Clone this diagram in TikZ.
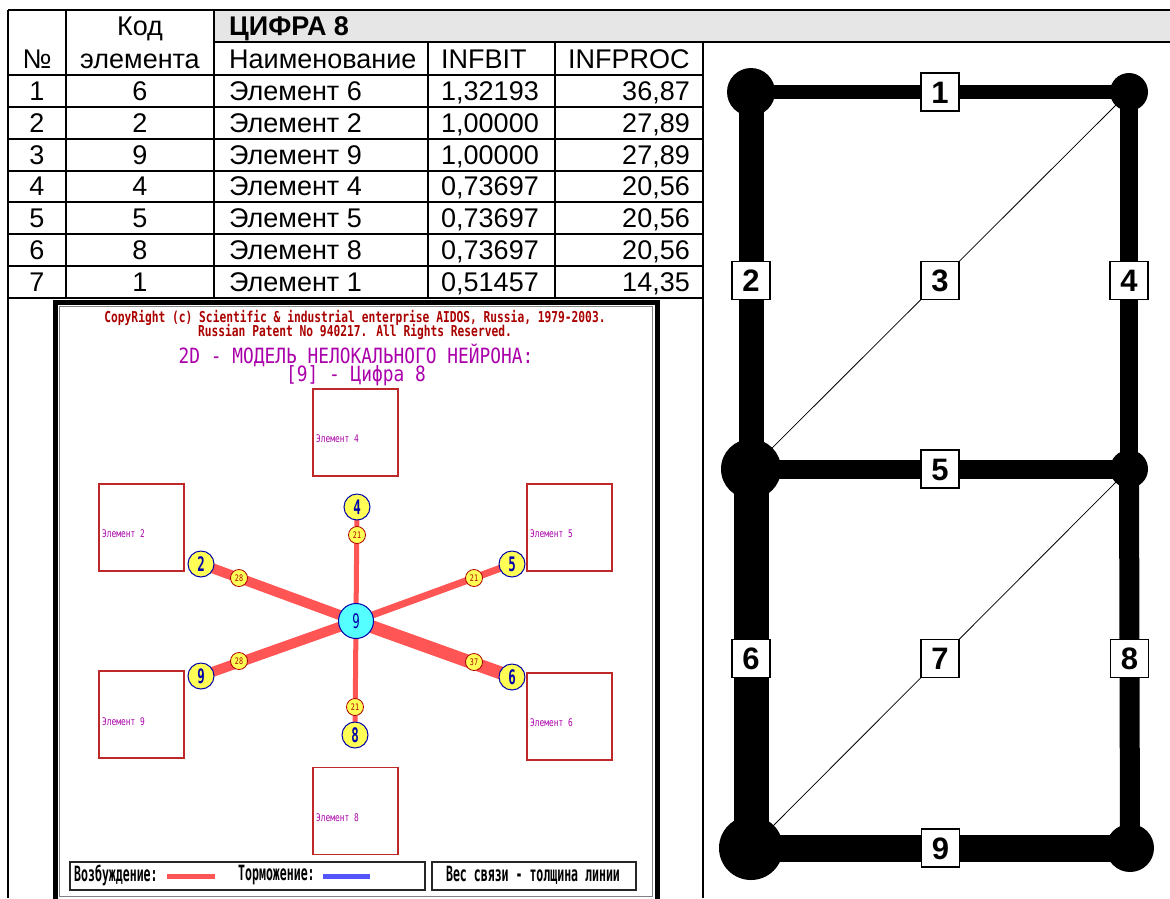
\documentclass[tikz,border=0pt]{standalone}
\usepackage{fontspec}
\setmainfont{Liberation Sans}
\newfontfamily\pixA{DejaVu Sans Mono}[FakeStretch=0.75]
\newfontfamily\pixB{DejaVu Sans Mono}[FakeStretch=0.85]
\newfontfamily\pixC{DejaVu Sans Mono}[FakeStretch=0.62]
\newfontfamily\pixD{DejaVu Sans Mono}[FakeStretch=0.55]
\usetikzlibrary{backgrounds}
\definecolor{dred}{RGB}{170,0,0}
\definecolor{dmag}{RGB}{170,0,170}
\definecolor{lred}{RGB}{255,85,85}
\definecolor{lblue}{RGB}{85,85,255}
\definecolor{lyel}{RGB}{255,255,85}
\definecolor{lcyan}{RGB}{85,255,255}
\definecolor{dblue}{RGB}{0,0,170}
\definecolor{boxred}{RGB}{190,40,40}
\definecolor{hdrgray}{RGB}{230,230,230}
\tikzset{
  grid/.style={line width=2pt, black},
  tt/.style={font=\fontsize{27}{27}\selectfont, inner sep=0pt, text height=19pt, text depth=0pt},
  ttb/.style={tt, font=\fontsize{27}{27}\selectfont\bfseries},
  corner/.style={circle, fill=black, inner sep=0pt},
  lbl/.style={draw=black, fill=white, text=black, line width=1.2pt, minimum size=38pt, inner sep=0pt,
    font=\fontsize{31}{31}\selectfont\bfseries, text height=22pt, text depth=0pt},
  thinln/.style={line width=0.8pt, draw=black},
  ebox/.style={draw=boxred, line width=1.5pt, minimum width=85pt, minimum height=87pt, inner sep=0pt},
  elab/.style={text=dmag, font=\pixA\fontsize{10.5}{10.5}\selectfont, inner sep=0pt, anchor=west},
  ycirc/.style={circle, fill=lyel, draw=dblue, line width=1pt, minimum size=26pt, inner sep=0pt,
    text=dblue, font=\pixC\fontsize{20}{20}\selectfont\bfseries},
  ccirc/.style={circle, fill=lcyan, draw=dblue, line width=1pt, minimum size=35pt, inner sep=0pt,
    text=dblue, font=\pixC\fontsize{20}{20}\selectfont},
  wt/.style={circle, fill=lyel, draw=dred, line width=0.8pt, minimum size=17pt, inner sep=0pt,
    text=dred, font=\pixA\fontsize{9}{9}\selectfont},
  legtxt/.style={font=\pixD\fontsize{21}{21}\selectfont\bfseries, inner sep=0pt},
  legbox/.style={draw=black!85, line width=1.5pt, inner sep=0pt, anchor=north west}
}
\begin{document}
\begin{tikzpicture}[x=1pt, y=-1pt]
\useasboundingbox (0,0) rectangle (1170,898);
% ---------------- table ----------------
\fill[hdrgray] (214,10) rectangle (1170,42);
\draw[grid] (8,10) -- (1170,10);
\draw[grid] (214,42) -- (1170,42);
\foreach \k in {0,...,7} {
  \draw[grid] (8,75+31.85*\k) -- (703,75+31.85*\k);
}
\draw[grid] (8,10) -- (8,898);
\draw[grid] (66,10) -- (66,298);
\draw[grid] (214,10) -- (214,298);
\draw[grid] (428,42) -- (428,298);
\draw[grid] (555,42) -- (555,298);
\draw[grid] (703,42) -- (703,898);
\node[tt] (hkod) at (140,26) {Код};
\node[tt] (hel) at (140,59) {элемента};
\node[tt] (hno) at (37,59) {№};
\node[ttb, anchor=west] (hcif) at (229,26) {ЦИФРА 8};
\node[tt, anchor=west] (hname) at (229,59) {Наименование};
\node[tt, anchor=west] (hbit) at (441,59) {INFBIT};
\node[tt, anchor=west] (hproc) at (568,59) {INFPROC};
\foreach \n/\k/\b/\p [count=\i] in {1/6/{1,32193}/{36,87}, 2/2/{1,00000}/{27,89}, 3/9/{1,00000}/{27,89}, 4/4/{0,73697}/{20,56}, 5/5/{0,73697}/{20,56}, 6/8/{0,73697}/{20,56}, 7/1/{0,51457}/{14,35}} {
  \pgfmathsetmacro\yy{75+31.85*(\i-0.5)}
  \node[tt] (rn\i) at (37,\yy) {\n};
  \node[tt] (rk\i) at (140,\yy) {\k};
  \node[tt, anchor=west] (re\i) at (229,\yy) {Элемент \k};
  \node[tt, anchor=west] (rb\i) at (441,\yy) {\b};
  \node[tt, anchor=east] (rp\i) at (690,\yy) {\p};
}
% ---------------- neuron picture ----------------
\draw[line width=5pt, black] (55.5,302) rectangle (657,930);
\draw[line width=1.5pt, black!50] (59.5,306.5) rectangle (652.5,896.5);
\node[text=dred, font=\pixA\fontsize{15}{15}\selectfont\bfseries, inner sep=0pt] (cp1) at (355,318) {CopyRight (c) Scientific \& industrial enterprise AIDOS, Russia, 1979-2003.};
\node[text=dred, font=\pixA\fontsize{15}{15}\selectfont\bfseries, inner sep=0pt] (cp2) at (355,332) {Russian Patent No 940217. All Rights Reserved.};
\node[text=dmag, font=\pixB\fontsize{21}{21}\selectfont, inner sep=0pt] (tt1) at (356,355) {2D - МОДЕЛЬ НЕЛОКАЛЬНОГО НЕЙРОНА:};
\node[text=dmag, font=\pixB\fontsize{21}{21}\selectfont, inner sep=0pt] (tt2) at (356,376) {[9] - Цифра 8};
% element boxes
\node[ebox] (e4) at (355.5,432.5) {};
\node[ebox] (e2) at (141.5,527.5) {};
\node[ebox] (e5) at (569.5,527.5) {};
\node[ebox] (e9) at (141.5,714.5) {};
\node[ebox] (e6) at (569.5,716.5) {};
\node[ebox] (e8) at (355.5,811) {};
\node[elab] (l4) at (316,439) {Элемент 4};
\node[elab] (l2) at (102,534) {Элемент 2};
\node[elab] (l5) at (530,534) {Элемент 5};
\node[elab] (l9) at (102,722) {Элемент 9};
\node[elab] (l6) at (530,723) {Элемент 6};
\node[elab] (l8) at (316,818) {Элемент 8};
% neuron nodes
\node[ccirc] (c) at (356,621) {9};
\node[ycirc] (n4) at (357,507) {4};
\node[ycirc] (n2) at (201,564) {2};
\node[ycirc] (n5) at (512,564) {5};
\node[ycirc] (n9) at (201,676) {9};
\node[ycirc] (n6) at (512,677) {6};
\node[ycirc] (n8) at (355,735) {8};
\begin{scope}[on background layer]
  \draw[lred, line width=5pt] (c.center) -- (n4.center);
  \draw[lred, line width=10pt] (c.center) -- (n2.center);
  \draw[lred, line width=7pt] (c.center) -- (n5.center);
  \draw[lred, line width=10pt] (c.center) -- (n9.center);
  \draw[lred, line width=13pt] (c.center) -- (n6.center);
  \draw[lred, line width=5pt] (c.center) -- (n8.center);
\end{scope}
\node[wt] (w4) at (357,535) {21};
\node[wt] (w2) at (239,578) {28};
\node[wt] (w5) at (474,578) {21};
\node[wt] (w9) at (239,661) {28};
\node[wt] (w6) at (474,662) {37};
\node[wt] (w8) at (355,707) {21};
% legend
\node[legbox, minimum width=355pt, minimum height=28pt] (lg1) at (69,861) {};
\node[legbox, minimum width=204pt, minimum height=28pt] (lg2) at (431,861) {};
\node[legtxt, anchor=west] (lgex) at (74,875) {Возбуждение:};
\draw[lred, line width=5pt] (167,876) -- (215,876);
\node[legtxt, anchor=west] (lgin) at (238,875) {Торможение:};
\draw[lblue, line width=5pt] (323,876) -- (370,876);
\node[legtxt] (lgw) at (533,875) {Вес связи - толщина линии};
% ---------------- right graph ----------------
\node[corner, minimum size=48pt] (TL) at (751,92) {};
\node[corner, minimum size=38pt] (TR) at (1129,92) {};
\node[corner, minimum size=60pt] (ML) at (751,469) {};
\node[corner, minimum size=38pt] (MR) at (1129,469) {};
\node[corner, minimum size=64pt] (BL) at (751,848) {};
\node[corner, minimum size=48pt] (BR) at (1130,848) {};
\draw[line width=14pt] (TL.center) -- node[lbl] (g1) {1} (TR.center);
\draw[line width=25pt] (TL.center) -- node[lbl] (g2) {2} (ML.center);
\draw[thinln] (ML.center) -- node[lbl] (g3) {3} (TR.center);
\draw[line width=18pt] (TR.center) -- node[lbl] (g4) {4} (MR.center);
\draw[line width=19pt] (ML.center) -- node[lbl] (g5) {5} (MR.center);
\draw[line width=35pt] (ML.center) -- node[lbl] (g6) {6} (BL.center);
\draw[thinln] (BL.center) -- node[lbl] (g7) {7} (MR.center);
\draw[line width=20pt] (MR.center) -- node[lbl] (g8) {8} (BR.center);
\draw[line width=27pt] (BL.center) -- node[lbl] (g9) {9} (BR.center);
\end{tikzpicture}
\end{document}
